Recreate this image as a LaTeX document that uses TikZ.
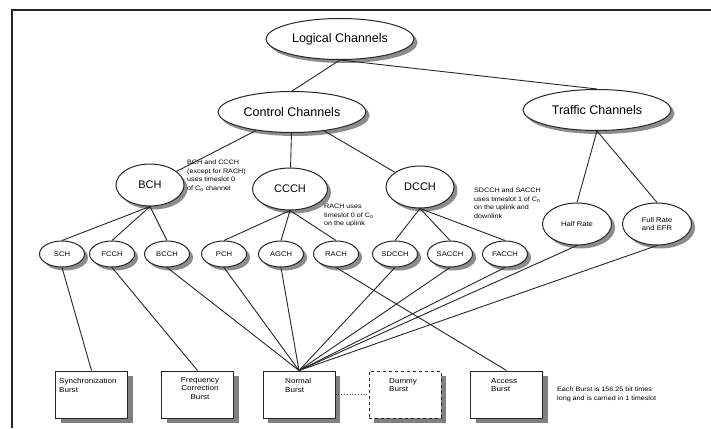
\documentclass[tikz,border=0pt]{standalone}
\usepackage{fontspec}
\setmainfont{Liberation Sans}
\newfontfamily\smf[FakeStretch=1.12]{Liberation Sans}
\usetikzlibrary{shapes.geometric}
\begin{document}
\begin{tikzpicture}[x=1pt,y=-1pt,
  conn/.style={draw=black!85,line width=0.9pt},
  shadefill/.style={fill=black!45,draw=black!45,line width=4pt},
  boxshade/.style={fill=black!50,draw=black!50,line width=5pt},
  el/.style={ellipse,draw=black!85,line width=1pt,fill=white,inner sep=0pt},
  bigel/.style={el,minimum width=148pt,minimum height=41pt,font=\fontsize{12.5}{14}\selectfont},
  midel/.style={el,minimum width=68pt,minimum height=42pt,font=\fontsize{11}{13}\selectfont},
  ccel/.style={midel,minimum width=75pt},
  trel/.style={el,minimum width=69pt,minimum height=42pt,align=center,font=\smf\fontsize{6.8}{8.5}\selectfont},
  smel/.style={el,minimum width=45pt,minimum height=26pt,font=\smf\fontsize{6.8}{8}\selectfont},
  burst/.style={draw=black!85,line width=1pt,fill=white,minimum width=72pt,minimum height=47pt,inner sep=0pt},
  dburst/.style={burst,dashed},
  btext/.style={inner sep=0pt,align=left,font=\smf\fontsize{7.2}{8.8}\selectfont},
  note/.style={inner sep=0pt,align=left,font=\smf\fontsize{6.4}{8.4}\selectfont},
  border/.style={draw=black!85,line width=2.6pt}
]
\useasboundingbox (0,0) rectangle (711,428);
% frame
\coordinate (fa) at (711,10);
\coordinate (fb) at (12,10);
\coordinate (fc) at (12,428);
\draw[border] (fa) -- (fb) -- (fc);

% shadows (offset grey copies)
\path[shadefill] (343.5,42.5) ellipse [x radius=72pt,y radius=18.5pt];
\path[shadefill] (295.5,115.5) ellipse [x radius=72pt,y radius=18.5pt];
\path[shadefill] (600.5,113.5) ellipse [x radius=72pt,y radius=18.5pt];
\path[shadefill] (153.5,188.5) ellipse [x radius=32pt,y radius=19pt];
\path[shadefill] (293.5,192.5) ellipse [x radius=35.5pt,y radius=19pt];
\path[shadefill] (423.5,190.5) ellipse [x radius=32pt,y radius=19pt];
\path[shadefill] (580.5,227.5) ellipse [x radius=32.5pt,y radius=19pt];
\path[shadefill] (660.5,227.5) ellipse [x radius=32.5pt,y radius=19pt];
\foreach \xx in {62,112,167,224,281,336,395,450,505}
  \path[shadefill] (\xx+3.5,257.5) ellipse [x radius=20.5pt,y radius=11pt];
\foreach \xx in {91.5,197.5,299,405,506.5}
  \path[boxshade] (\xx-28.5,378.5) rectangle (\xx+38.5,420.5);

% top levels
\node[bigel] (logical) at (340,39) {Logical Channels};
\node[bigel] (control) at (292,112) {Control Channels};
\node[bigel] (traffic) at (597,110) {Traffic Channels};

\node[midel] (bch) at (150,185) {BCH};
\node[ccel] (ccch) at (290,189) {CCCH};
\node[midel] (dcch) at (420,187) {DCCH};

\node[trel] (half) at (577,224) {Half Rate};
\node[trel] (full) at (657,224) {Full Rate\\and EFR};

% second row
\node[smel] (sch) at (62,254) {SCH};
\node[smel] (fcch) at (112,254) {FCCH};
\node[smel] (bcch) at (167,254) {BCCH};
\node[smel] (pch) at (224,254) {PCH};
\node[smel] (agch) at (281,254) {AGCH};
\node[smel] (rach) at (336,254) {RACH};
\node[smel] (sdcch) at (395,254) {SDCCH};
\node[smel] (sacch) at (450,254) {SACCH};
\node[smel] (facch) at (505,254) {FACCH};

% bursts
\node[burst] (sync) at (91.5,394.5) {};
\node[burst] (freq) at (197.5,394.5) {};
\node[burst] (normal) at (299,394.5) {};
\node[dburst] (dummy) at (405,394.5) {};
\node[burst] (access) at (506.5,394.5) {};

\node[btext,anchor=north west] (tsync) at (59,378) {Synchronization\\Burst};
\node[btext,anchor=north,align=center] (tfreq) at (200,377) {Frequency\\Correction\\Burst};
\node[btext,anchor=north west] (tnormal) at (285,378) {Normal\\Burst};
\node[btext,anchor=north west] (tdummy) at (389,378) {Dummy\\Burst};
\node[btext,anchor=north west] (taccess) at (491,378) {Access\\Burst};

% notes
\node[note,anchor=north west] (n1) at (187,160) {BCH and CCCH\\(except for RACH)\\uses timeslot 0\\of C\textsubscript{0} channel};
\node[note,anchor=north west] (n2) at (324,204) {RACH uses\\timeslot 0 of C\textsubscript{0}\\on the uplink};
\node[note,anchor=north west] (n3) at (474,188) {SDCCH and SACCH\\uses timeslot 1 of C\textsubscript{0}\\on the uplink and\\downlink};
\node[note,anchor=north west] (n4) at (557,387) {Each Burst is 156.25 bit times\\long and is carried in 1 timeslot};

% connectors
\draw[conn] (logical.south) -- (control.north);
\draw[conn] (logical.south) -- (traffic.north);
\draw[conn] (control) -- (bch);
\draw[conn] (control) -- (ccch);
\draw[conn] (control) -- (dcch);
\draw[conn] (traffic.south) -- (half.north);
\draw[conn] (traffic.south) -- (full.north);
\draw[conn] (bch.south) -- (sch.north);
\draw[conn] (bch.south) -- (fcch.north);
\draw[conn] (bch.south) -- (bcch.north);
\draw[conn] (ccch.south) -- (pch.north);
\draw[conn] (ccch.south) -- (agch.north);
\draw[conn] (ccch.south) -- (rach.north);
\draw[conn] (dcch.south) -- (sdcch.north);
\draw[conn] (dcch.south) -- (sacch.north);
\draw[conn] (dcch.south) -- (facch.north);

\draw[conn] (sch.south) -- (sync.north);
\draw[conn] (fcch.south) -- (freq.north);
\draw[conn] (rach.south) -- (access.north);
\foreach \n in {bcch,pch,agch,sdcch,sacch,facch,half,full}
  \draw[conn] (\n.south) -- (normal.north);
\draw[draw=black!70,line width=0.8pt,dotted] (normal.east) -- (dummy.west);
\end{tikzpicture}
\end{document}
